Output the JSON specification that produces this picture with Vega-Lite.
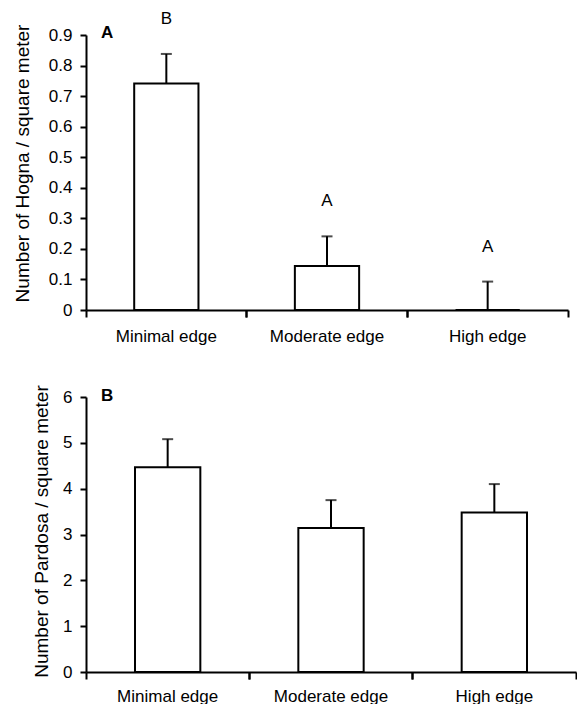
{
  "$schema": "https://vega.github.io/schema/vega-lite/v6.json",
  "padding": {"left": 12, "top": 9, "right": 0, "bottom": 0},
  "spacing": 40,
  "config": {
    "font": "Liberation Sans",
    "view": {"stroke": null},
    "axis": {
      "labelFont": "Liberation Sans",
      "titleFont": "Liberation Sans",
      "labelFontSize": 17,
      "titleFontSize": 19,
      "titleFontWeight": "normal",
      "labelColor": "black",
      "titleColor": "black",
      "domainColor": "black",
      "tickColor": "black",
      "domainWidth": 2,
      "tickWidth": 2,
      "grid": false,
      "labelOverlap": false
    },
    "title": {"font": "Liberation Sans", "fontSize": 17, "fontWeight": "bold", "color": "black", "anchor": "start", "frame": "group"}
  },
  "vconcat": [
    {
      "width": 482,
      "height": 275,
      "title": {"text": "A", "dx": 15, "offset": -32},
      "data": {"values": [
        {"site": "Minimal edge", "mean": 0.741, "upper": 0.838, "group": "B"},
        {"site": "Moderate edge", "mean": 0.144, "upper": 0.241, "group": "A"},
        {"site": "High edge", "mean": 0, "upper": 0.093, "group": "A"}
      ]},
      "resolve": {"scale": {"x": "independent"}},
      "layer": [
        {
          "layer": [
            {
              "mark": {"type": "bar", "fill": "white", "stroke": "black", "strokeWidth": 2, "width": {"band": 0.4}},
              "encoding": {
                "x": {"field": "site", "type": "nominal", "sort": null,
                      "scale": {"paddingInner": 0, "paddingOuter": 0},
                      "axis": {"title": null, "bandPosition": 0, "labelAngle": 0, "tickSize": 7, "labelPadding": 11}},
                "y": {"field": "mean", "type": "quantitative",
                      "scale": {"domain": [0, 0.9], "nice": false},
                      "axis": {"title": "Number of Hogna / square meter", "values": [0, 0.1, 0.2, 0.3, 0.4, 0.5, 0.6, 0.7, 0.8, 0.9], "tickCount": 10, "labelOverlap": false, "format": "~g", "tickSize": 6, "labelPadding": 8, "titleX": -64, "titleY": 128, "titleBaseline": "middle"}}
              }
            },
            {
              "mark": {"type": "tick", "color": "black", "thickness": 2, "size": 11},
              "encoding": {
                "x": {"field": "site", "type": "nominal", "sort": null},
                "y": {"field": "upper", "type": "quantitative"}
              }
            },
            {
              "mark": {"type": "text", "fontSize": 17, "baseline": "middle", "dy": -35, "color": "black"},
              "encoding": {
                "x": {"field": "site", "type": "nominal", "sort": null},
                "y": {"field": "upper", "type": "quantitative"},
                "text": {"field": "group"}
              }
            }
          ]
        },
        {
          "mark": {"type": "rule", "color": "black", "strokeWidth": 2},
          "encoding": {
            "x": {"field": "site", "type": "nominal", "sort": null,
                  "scale": {"paddingInner": 0, "paddingOuter": 0},
                  "axis": {"title": null, "orient": "bottom", "bandPosition": 1, "labels": false, "domain": false, "tickSize": 7}},
            "y": {"field": "mean", "type": "quantitative",
                  "axis": {"title": "Number of Hogna / square meter", "values": [0, 0.1, 0.2, 0.3, 0.4, 0.5, 0.6, 0.7, 0.8, 0.9], "tickCount": 10, "labelOverlap": false, "format": "~g", "tickSize": 6, "labelPadding": 8, "titleX": -64, "titleY": 128, "titleBaseline": "middle"}},
            "y2": {"field": "upper"}
          }
        }
      ]
    },
    {
      "width": 490,
      "height": 275,
      "title": {"text": "B", "dx": 15, "offset": -20},
      "data": {"values": [
        {"site": "Minimal edge", "mean": 4.47, "upper": 5.08},
        {"site": "Moderate edge", "mean": 3.14, "upper": 3.75},
        {"site": "High edge", "mean": 3.48, "upper": 4.10}
      ]},
      "resolve": {"scale": {"x": "independent"}},
      "layer": [
        {
          "layer": [
            {
              "mark": {"type": "bar", "fill": "white", "stroke": "black", "strokeWidth": 2, "width": {"band": 0.4}},
              "encoding": {
                "x": {"field": "site", "type": "nominal", "sort": null,
                      "scale": {"paddingInner": 0, "paddingOuter": 0},
                      "axis": {"title": null, "bandPosition": 0, "labelAngle": 0, "tickSize": 7, "labelPadding": 9}},
                "y": {"field": "mean", "type": "quantitative",
                      "scale": {"domain": [0, 6], "nice": false},
                      "axis": {"title": "Number of Pardosa / square meter", "values": [0, 1, 2, 3, 4, 5, 6], "labelOverlap": false, "tickSize": 6, "labelPadding": 8, "titleX": -45, "titleY": 134, "titleBaseline": "middle"}}
              }
            },
            {
              "mark": {"type": "tick", "color": "black", "thickness": 2, "size": 11},
              "encoding": {
                "x": {"field": "site", "type": "nominal", "sort": null},
                "y": {"field": "upper", "type": "quantitative"}
              }
            }
          ]
        },
        {
          "mark": {"type": "rule", "color": "black", "strokeWidth": 2},
          "encoding": {
            "x": {"field": "site", "type": "nominal", "sort": null,
                  "scale": {"paddingInner": 0, "paddingOuter": 0},
                  "axis": {"title": null, "orient": "bottom", "bandPosition": 1, "labels": false, "domain": false, "tickSize": 7}},
            "y": {"field": "mean", "type": "quantitative",
                  "axis": {"title": "Number of Pardosa / square meter", "values": [0, 1, 2, 3, 4, 5, 6], "labelOverlap": false, "tickSize": 6, "labelPadding": 8, "titleX": -45, "titleY": 134, "titleBaseline": "middle"}},
            "y2": {"field": "upper"}
          }
        }
      ]
    }
  ]
}
